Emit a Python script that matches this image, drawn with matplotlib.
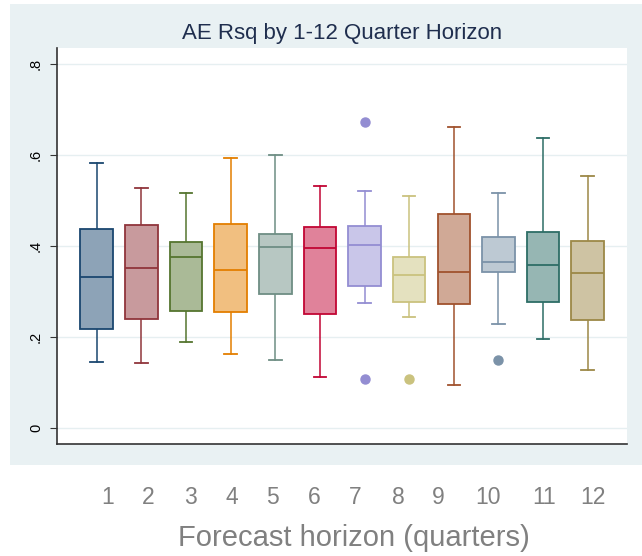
import numpy as np
import matplotlib.pyplot as plt

# box statistics, horizons 1..12
horizons = list(range(1, 13))
whislo = [0.146, 0.143, 0.190, 0.163, 0.150, 0.113, 0.276, 0.244, 0.095, 0.228, 0.196, 0.128]
q1     = [0.218, 0.239, 0.258, 0.255, 0.296, 0.252, 0.313, 0.277, 0.273, 0.343, 0.278, 0.238]
med    = [0.333, 0.351, 0.377, 0.348, 0.399, 0.395, 0.403, 0.337, 0.344, 0.365, 0.359, 0.340]
q3     = [0.438, 0.446, 0.408, 0.448, 0.427, 0.441, 0.444, 0.377, 0.471, 0.419, 0.430, 0.411]
whishi = [0.583, 0.528, 0.516, 0.593, 0.600, 0.533, 0.521, 0.511, 0.662, 0.517, 0.637, 0.553]
fliers = [[], [], [], [], [], [], [0.673, 0.108], [0.109], [], [0.150], [], []]

# stata s2color palette
colors = ['#1a476f', '#90353b', '#55752f', '#e37e00', '#6e8e84', '#c10534',
          '#938dd2', '#cac27e', '#a0522d', '#7b92a8', '#2d6d66', '#9c8847']

ytick_vals = [0, 0.2, 0.4, 0.6, 0.8]
ytick_labels = ['0', '.2', '.4', '.6', '.8']
title = 'AE Rsq by 1-12 Quarter Horizon'
xlabel = 'Forecast horizon (quarters)'

W, H = 642, 556
fig = plt.figure(figsize=(W / 100, H / 100), dpi=100)
fig.patch.set_facecolor('white')

def px(x0, y0, x1, y1):
    return [x0 / W, 1 - y1 / H, (x1 - x0) / W, (y1 - y0) / H]

# outer graph region (light blue-grey)
bg = fig.add_axes(px(10, 4, 642, 465))
bg.set_facecolor('#e9f1f3')
bg.set_xticks([]); bg.set_yticks([])
for s in bg.spines.values():
    s.set_visible(False)

ax = fig.add_axes(px(57, 48.3, 627, 444.3))
ax.set_facecolor('white')

stats = []
for i in range(len(horizons)):
    stats.append(dict(whislo=whislo[i], q1=q1[i], med=med[i], q3=q3[i],
                      whishi=whishi[i], fliers=fliers[i]))

def lighten(c, f=0.5):
    r, g, b = [int(c[k:k + 2], 16) / 255 for k in (1, 3, 5)]
    return (1 - f + f * r, 1 - f + f * g, 1 - f + f * b)

bp = ax.bxp(stats, positions=horizons, widths=0.73, patch_artist=True,
            showfliers=True, capwidths=0.28)
for i, c in enumerate(colors):
    bp['boxes'][i].set(facecolor=lighten(c), edgecolor=c, linewidth=1.3, zorder=3)
    bp['medians'][i].set(color=c, linewidth=1.3, zorder=4)
    for w in bp['whiskers'][2 * i:2 * i + 2]:
        w.set(color=c, linewidth=1.1)
    for cp in bp['caps'][2 * i:2 * i + 2]:
        cp.set(color=c, linewidth=1.3)
    bp['fliers'][i].set(marker='o', markerfacecolor=c, markeredgecolor=c,
                        markersize=6.5, linestyle='none')

ax.set_xlim(0.11, 12.88)
ax.set_ylim(-0.0351, 0.8344)
ax.set_yticks(ytick_vals)
ax.set_yticklabels(ytick_labels, rotation=90, va='center', fontsize=10.5,
                   family='Liberation Sans')
ax.tick_params(axis='y', length=5, width=0.8, color='#333333', pad=5)
ax.set_xticks([])
for v in ytick_vals:
    ax.axhline(v, color='#e6eff1', linewidth=1.0, zorder=0)
for s in ['top', 'right']:
    ax.spines[s].set_visible(False)
for s in ['left', 'bottom']:
    ax.spines[s].set_color('#333333')
    ax.spines[s].set_linewidth(1.2)

fig.text(342 / W, 1 - 33 / H, title, ha='center', va='center', fontsize=16,
         color='#1f2e4e', family='Liberation Sans')

# x labels sit below the graph region
label_x = [108, 148, 190, 232, 272, 314, 355, 398, 438, 488, 544, 593]
for lx, h in zip(label_x, horizons):
    fig.text(lx / W, 1 - 498 / H, str(h), ha='center', va='center', fontsize=16.5,
             color='#808080', family='Liberation Sans')
fig.text(354 / W, 1 - 538 / H, xlabel, ha='center', va='center', fontsize=21,
         color='#808080', family='Liberation Sans')

fig.savefig('out.png', dpi=100, facecolor='white')
